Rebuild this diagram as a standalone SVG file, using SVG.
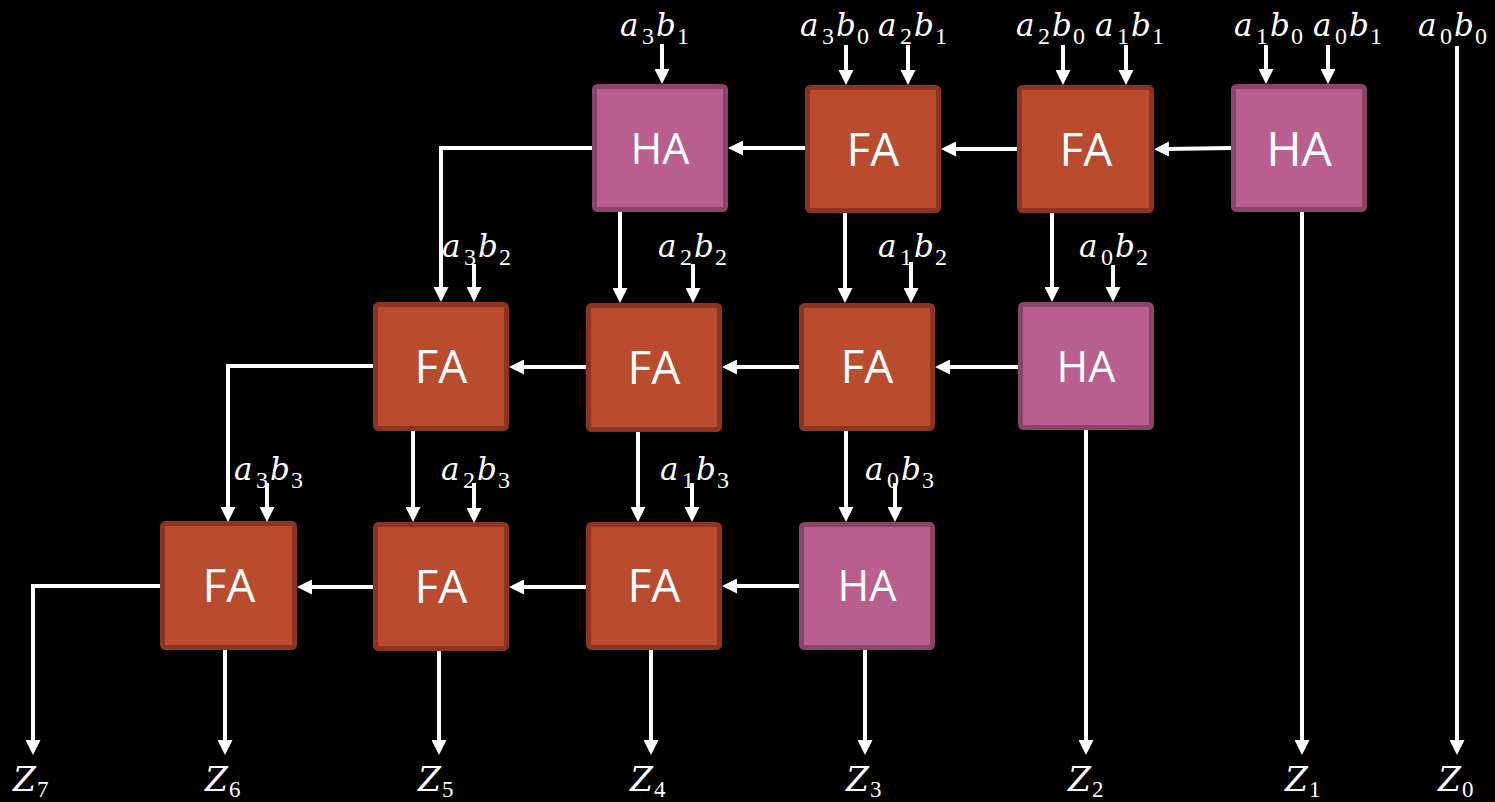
<svg xmlns="http://www.w3.org/2000/svg" width="1495" height="802" viewBox="0 0 1495 802">
<style>
.fa rect{fill:#b94c2e;stroke:#8a3421;stroke-width:5}
.ha rect{fill:#b85f90;stroke:#8a4467;stroke-width:5}
.nt{font-family:"Open Sans",sans-serif;fill:#fff;text-anchor:middle}
.c path{fill:none;stroke:#fff;stroke-width:4;marker-end:url(#ah)}
.lb{font-family:"DejaVu Serif",serif;font-style:italic;font-size:31px;fill:#fff}
.lb .s{font-family:"Liberation Serif",serif;font-style:normal;font-size:24px}
.z{font-family:"DejaVu Serif",serif;font-style:italic;font-size:33px;fill:#fff}
.z .s{font-family:"Liberation Serif",serif;font-style:normal;font-size:23px}
</style>
<defs>
<marker id="ah" markerUnits="userSpaceOnUse" markerWidth="15" markerHeight="15" refX="3" refY="7.5" orient="auto"><path d="M0,0 L15,7.5 L0,15 z" fill="#fff"/></marker>
</defs>
<rect width="1495" height="802" fill="#000"/>
<g id="r1c1" class="ha"><rect x="594.5" y="86.5" width="131" height="123" rx="3"/><text class="nt" x="660" y="164" font-size="43">HA</text></g>
<g id="r1c2" class="fa"><rect x="807.5" y="87.5" width="131" height="123" rx="3"/><text class="nt" x="873" y="166" font-size="46">FA</text></g>
<g id="r1c3" class="fa"><rect x="1019.5" y="87.5" width="132" height="123" rx="3"/><text class="nt" x="1086" y="166" font-size="46">FA</text></g>
<g id="r1c4" class="ha"><rect x="1233.5" y="86.5" width="131" height="123" rx="3"/><text class="nt" x="1299" y="166" font-size="48">HA</text></g>
<g id="r2c1" class="fa"><rect x="375.5" y="304.5" width="131" height="124" rx="3"/><text class="nt" x="441" y="383" font-size="46">FA</text></g>
<g id="r2c2" class="fa"><rect x="588.5" y="305.5" width="131" height="124" rx="3"/><text class="nt" x="654" y="384" font-size="46">FA</text></g>
<g id="r2c3" class="fa"><rect x="801.5" y="305.5" width="131" height="123" rx="3"/><text class="nt" x="867" y="383" font-size="46">FA</text></g>
<g id="r2c4" class="ha"><rect x="1020.5" y="304.5" width="131" height="123" rx="3"/><text class="nt" x="1086" y="382" font-size="43">HA</text></g>
<g id="r3c1" class="fa"><rect x="162.5" y="523.5" width="132" height="124" rx="3"/><text class="nt" x="229" y="602" font-size="46">FA</text></g>
<g id="r3c2" class="fa"><rect x="375.5" y="524.5" width="131" height="124" rx="3"/><text class="nt" x="441" y="603" font-size="46">FA</text></g>
<g id="r3c3" class="fa"><rect x="588.5" y="524.5" width="131" height="123" rx="3"/><text class="nt" x="654" y="602" font-size="46">FA</text></g>
<g id="r3c4" class="ha"><rect x="801.5" y="524.5" width="131" height="123" rx="3"/><text class="nt" x="867" y="601" font-size="43">HA</text></g>
<g id="connectors" class="c">
<path d="M662,44 V72"/>
<path d="M846,45 V73"/>
<path d="M908,45 V73"/>
<path d="M1063,45 V73"/>
<path d="M1126,45 V73"/>
<path d="M1266,45 V72"/>
<path d="M1328,45 V72"/>
<path d="M1457,46 V743"/>
<path d="M1231,148 L1166,149"/>
<path d="M1017,149 H953"/>
<path d="M805,148 H740"/>
<path d="M592,148 H441 V290"/>
<path d="M620,212 V291"/>
<path d="M845,213 V291"/>
<path d="M1052,213 V290"/>
<path d="M1302,212 V743"/>
<path d="M474,264 V290"/>
<path d="M693,264 V291"/>
<path d="M911,262 V291"/>
<path d="M1113,265 V290"/>
<path d="M1018,367 H947"/>
<path d="M799,367 H734"/>
<path d="M586,367 H521"/>
<path d="M373,366 H228 V510"/>
<path d="M413,431 V510"/>
<path d="M638,432 V510"/>
<path d="M846,431 V510"/>
<path d="M1086,430 V743"/>
<path d="M267,483 V510"/>
<path d="M474,483 V511"/>
<path d="M692,483 V510"/>
<path d="M895,483 V510"/>
<path d="M799,586 H734"/>
<path d="M586,587 H521"/>
<path d="M373,587 H309"/>
<path d="M160,586 H33 V743"/>
<path d="M225,650 V743"/>
<path d="M439,651 V743"/>
<path d="M651,650 V743"/>
<path d="M865,650 V743"/>
</g>
<g id="labels">
<text class="lb" y="36"><tspan x="620">a</tspan><tspan class="s" x="642" dy="8">3</tspan><tspan x="656" dy="-8">b</tspan><tspan class="s" x="677" dy="8">1</tspan></text>
<text class="lb" y="36"><tspan x="800">a</tspan><tspan class="s" x="822" dy="8">3</tspan><tspan x="836" dy="-8">b</tspan><tspan class="s" x="857" dy="8">0</tspan></text>
<text class="lb" y="36"><tspan x="878">a</tspan><tspan class="s" x="900" dy="8">2</tspan><tspan x="914" dy="-8">b</tspan><tspan class="s" x="935" dy="8">1</tspan></text>
<text class="lb" y="36"><tspan x="1016">a</tspan><tspan class="s" x="1038" dy="8">2</tspan><tspan x="1052" dy="-8">b</tspan><tspan class="s" x="1073" dy="8">0</tspan></text>
<text class="lb" y="36"><tspan x="1095">a</tspan><tspan class="s" x="1117" dy="8">1</tspan><tspan x="1131" dy="-8">b</tspan><tspan class="s" x="1152" dy="8">1</tspan></text>
<text class="lb" y="36"><tspan x="1234">a</tspan><tspan class="s" x="1256" dy="8">1</tspan><tspan x="1270" dy="-8">b</tspan><tspan class="s" x="1291" dy="8">0</tspan></text>
<text class="lb" y="36"><tspan x="1313">a</tspan><tspan class="s" x="1335" dy="8">0</tspan><tspan x="1349" dy="-8">b</tspan><tspan class="s" x="1370" dy="8">1</tspan></text>
<text class="lb" y="36"><tspan x="1418">a</tspan><tspan class="s" x="1440" dy="8">0</tspan><tspan x="1454" dy="-8">b</tspan><tspan class="s" x="1475" dy="8">0</tspan></text>
<text class="lb" y="257"><tspan x="442">a</tspan><tspan class="s" x="464" dy="8">3</tspan><tspan x="478" dy="-8">b</tspan><tspan class="s" x="499" dy="8">2</tspan></text>
<text class="lb" y="257"><tspan x="658">a</tspan><tspan class="s" x="680" dy="8">2</tspan><tspan x="694" dy="-8">b</tspan><tspan class="s" x="715" dy="8">2</tspan></text>
<text class="lb" y="257"><tspan x="878">a</tspan><tspan class="s" x="900" dy="8">1</tspan><tspan x="914" dy="-8">b</tspan><tspan class="s" x="935" dy="8">2</tspan></text>
<text class="lb" y="257"><tspan x="1079">a</tspan><tspan class="s" x="1101" dy="8">0</tspan><tspan x="1115" dy="-8">b</tspan><tspan class="s" x="1136" dy="8">2</tspan></text>
<text class="lb" y="480"><tspan x="234">a</tspan><tspan class="s" x="256" dy="8">3</tspan><tspan x="270" dy="-8">b</tspan><tspan class="s" x="291" dy="8">3</tspan></text>
<text class="lb" y="480"><tspan x="441">a</tspan><tspan class="s" x="463" dy="8">2</tspan><tspan x="477" dy="-8">b</tspan><tspan class="s" x="498" dy="8">3</tspan></text>
<text class="lb" y="480"><tspan x="660">a</tspan><tspan class="s" x="682" dy="8">1</tspan><tspan x="696" dy="-8">b</tspan><tspan class="s" x="717" dy="8">3</tspan></text>
<text class="lb" y="480"><tspan x="865">a</tspan><tspan class="s" x="887" dy="8">0</tspan><tspan x="901" dy="-8">b</tspan><tspan class="s" x="922" dy="8">3</tspan></text>
<text class="z" y="791"><tspan x="13">Z</tspan><tspan class="s" x="37" dy="6">7</tspan></text>
<text class="z" y="791"><tspan x="205">Z</tspan><tspan class="s" x="229" dy="6">6</tspan></text>
<text class="z" y="791"><tspan x="418">Z</tspan><tspan class="s" x="442" dy="6">5</tspan></text>
<text class="z" y="791"><tspan x="630">Z</tspan><tspan class="s" x="654" dy="6">4</tspan></text>
<text class="z" y="791"><tspan x="846">Z</tspan><tspan class="s" x="870" dy="6">3</tspan></text>
<text class="z" y="791"><tspan x="1068">Z</tspan><tspan class="s" x="1092" dy="6">2</tspan></text>
<text class="z" y="791"><tspan x="1285">Z</tspan><tspan class="s" x="1309" dy="6">1</tspan></text>
<text class="z" y="791"><tspan x="1438">Z</tspan><tspan class="s" x="1462" dy="6">0</tspan></text>
</g>
</svg>
